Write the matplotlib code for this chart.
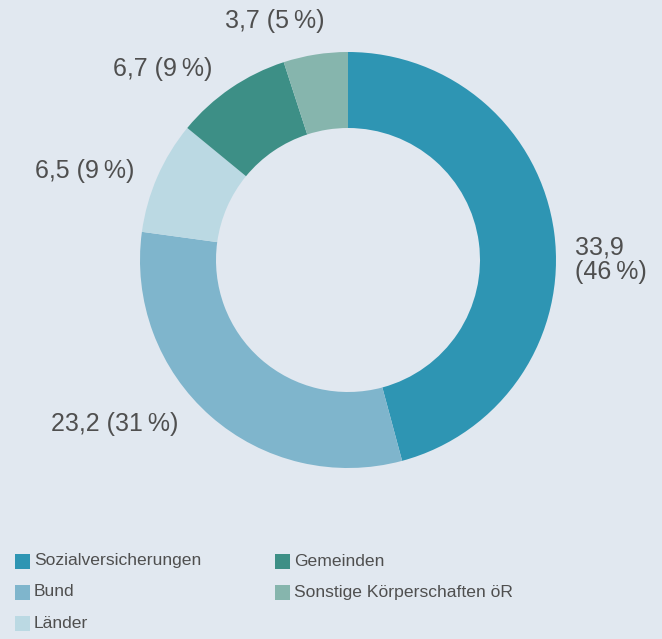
import matplotlib
matplotlib.use("Agg")
import matplotlib.pyplot as plt
from matplotlib.patches import Rectangle

categories = ["Sozialversicherungen", "Bund", "Länder", "Gemeinden", "Sonstige Körperschaften öR"]
values = [33.9, 23.2, 6.5, 6.7, 3.7]
percents = [46, 31, 9, 9, 5]
colors = ["#2E95B3", "#7FB5CC", "#BBD9E3", "#3D8F86", "#86B5AD"]
bg = "#E1E8F0"
txt = "#4F4F4F"

plt.rcParams['font.family'] = ['Liberation Sans', 'DejaVu Sans']

W, H = 662, 639
fig = plt.figure(figsize=(W / 100, H / 100), dpi=100, facecolor=bg)

cx, cy, R = 348, 260, 208
ax = fig.add_axes([(cx - R) / W, (H - cy - R) / H, 2 * R / W, 2 * R / H])
ax.set_facecolor(bg)
ax.pie(values, colors=colors, startangle=90, counterclock=False, radius=1,
       wedgeprops=dict(width=1 - 132 / 208, linewidth=0))
ax.set_xlim(-1, 1)
ax.set_ylim(-1, 1)
ax.set_aspect('equal')
ax.axis('off')

def fmt(v):
    return f"{v:.1f}".replace(".", ",")

# label positions in pixels (x, y, ha)
label_pos = [(575, 260, "left"), (115, 424, "center"), (85, 171, "center"),
             (163, 69, "center"), (275, 21, "center")]
for i, (v, p) in enumerate(zip(values, percents)):
    x, y, ha = label_pos[i]
    if i == 0:
        s = f"{fmt(v)}\n({p}\u2009%)"
    else:
        s = f"{fmt(v)} ({p}\u2009%)"
    fig.text(x / W, 1 - y / H, s, ha=ha, va="center", fontsize=18, color=txt,
             linespacing=1.02)

# legend
leg_pos = [(15, 561), (15, 592), (15, 623), (275, 561), (275, 592)]
for (lx, ly), c, name in zip(leg_pos, colors, categories):
    fig.patches.append(Rectangle((lx / W, 1 - (ly + 8) / H), 15 / W, 15 / H,
                                 transform=fig.transFigure, facecolor=c, edgecolor="none"))
    fig.text((lx + 19) / W, 1 - ly / H, name, ha="left", va="center",
             fontsize=12.6, color=txt)

fig.savefig("out.png", dpi=100, facecolor=bg)
